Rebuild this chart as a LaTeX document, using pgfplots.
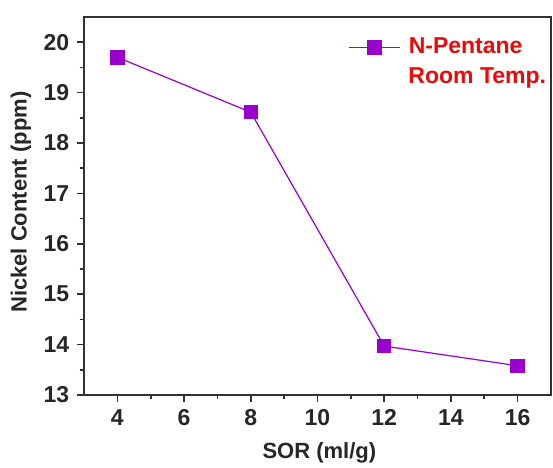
\documentclass[border=0pt]{standalone}
\usepackage{pgfplots}
\pgfplotsset{compat=1.18}
\usepackage{fontspec}
\setmainfont{Liberation Sans}
\definecolor{pur}{RGB}{153,0,204}
\definecolor{axgray}{RGB}{50,50,50}
\definecolor{legred}{RGB}{235,10,10}
\begin{document}
\fontsize{11pt}{13pt}\selectfont\bfseries
\begin{tikzpicture}
\begin{axis}[
 scale only axis, width=233.5pt, height=189pt,
 xmin=3, xmax=17, ymin=13, ymax=20.5,
 xtick={4,6,...,16}, ytick={13,...,20},
 minor x tick num=1, minor y tick num=1,
 tick pos=left, tick align=outside,
 major tick length=3.5pt, minor tick length=2.2pt,
 axis line style={axgray, line width=0.9pt},
 every tick/.style={axgray, line width=0.8pt},
 /pgf/number format/assume math mode=true,
 tick label style={font=\fontsize{11.5pt}{13pt}\selectfont\bfseries, text=black!85},
 xlabel={SOR (ml/g)}, ylabel={Nickel Content (ppm)},
 label style={font=\fontsize{11pt}{13pt}\selectfont\bfseries, text=black!85},
 xlabel style={at={(axis description cs:0.504,-0.153)}, anchor=center},
 ylabel style={at={(axis description cs:-0.135,0.51)}, anchor=center},
 legend style={draw=none, fill=none, at={(rel axis cs:0.561,0.962)}, anchor=north west,
   font=\fontsize{11.5pt}{13pt}\selectfont\bfseries, text=legred, inner sep=1pt},
 legend image code/.code={\draw[mark repeat=2,mark phase=2,#1] plot coordinates {(0cm,0cm) (0.45cm,0cm) (0.9cm,0cm)};},
 clip=false,
]
\addplot[pur, line width=0.6pt, mark=square*, mark size=3.3pt, mark options={fill=pur, draw=pur, solid}]
 coordinates {(4,19.70) (8,18.61) (12,13.97) (16,13.58)};
\addlegendentry{\hspace{2pt}N-Pentane}
\node[anchor=base west, text=legred, font=\fontsize{11.5pt}{13pt}\selectfont\bfseries, inner sep=0pt]
 at (rel axis cs:0.694,0.825) {Room Temp.};
\end{axis}
\pgfresetboundingbox
\path ([shift={(-42pt,-36.5pt)}]current axis.south west) rectangle ([shift={(1pt,8.5pt)}]current axis.north east);
\end{tikzpicture}
\end{document}
